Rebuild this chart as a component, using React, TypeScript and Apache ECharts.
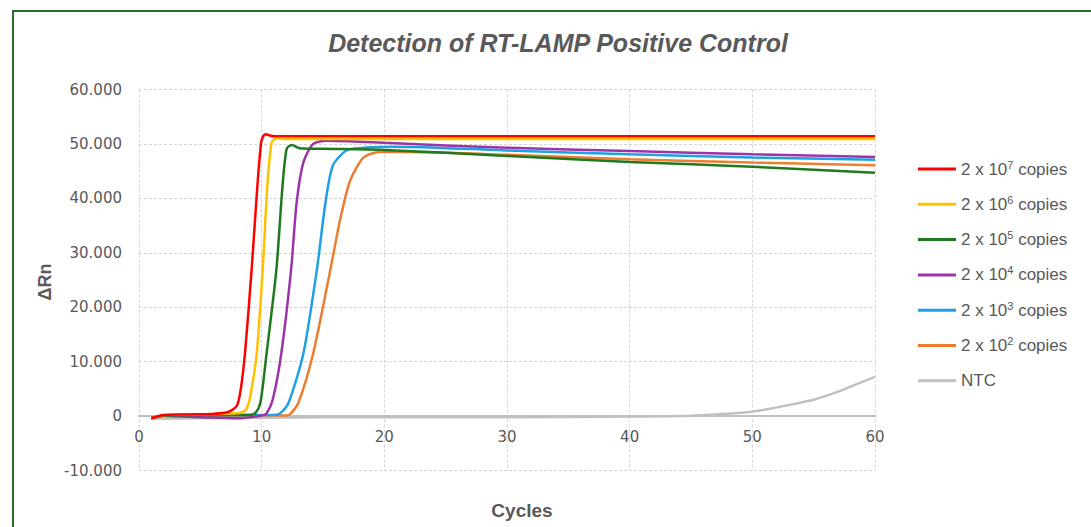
import React, { useEffect, useRef } from "react";
import * as echarts from "echarts";

const xTicks = [0, 10, 20, 30, 40, 50, 60];
const yTicks = [-10, 0, 10, 20, 30, 40, 50, 60];

const seriesNames = [
  "2 x 10{sup|7} copies",
  "2 x 10{sup|6} copies",
  "2 x 10{sup|5} copies",
  "2 x 10{sup|4} copies",
  "2 x 10{sup|3} copies",
  "2 x 10{sup|2} copies",
  "NTC",
];
const seriesKeys = ["2x10^7", "2x10^6", "2x10^5", "2x10^4", "2x10^3", "2x10^2", "NTC"];
const seriesColors = ["#ff0000", "#ffc000", "#1f7a1f", "#9b34a8", "#1da1e2", "#ed7d31", "#c0c0c0"];

// [cycle, ΔRn]
const copies7 = [
  [1, -0.4], [2, 0.2], [4, 0.3], [6, 0.4], [7, 0.6], [7.5, 1.0], [8, 2.0], [8.3, 5.0],
  [8.64, 11.5], [9.18, 26.9], [9.65, 42.3], [9.95, 50.2], [10.1, 51.3], [10.3, 51.8],
  [10.6, 51.6], [11, 51.4], [20, 51.4], [30, 51.4], [40, 51.4], [50, 51.4], [60, 51.4],
];
const copies6 = [
  [1, -0.4], [2, 0.2], [5, 0.3], [8, 0.5], [8.5, 0.8], [8.8, 1.5], [9.1, 4.0], [9.6, 11.5],
  [10.08, 26.9], [10.46, 42.3], [10.8, 50.2], [11, 50.8], [11.2, 51.0], [12, 50.9],
  [20, 50.9], [30, 50.9], [40, 50.9], [50, 50.9], [60, 50.9],
];
const copies5 = [
  [1, -0.4], [2, 0.1], [5, 0.2], [9, 0.2], [9.5, 0.6], [9.9, 2.5], [10.4, 11.5], [11.2, 26.9],
  [11.7, 42.3], [12.04, 49.1], [12.45, 49.8], [13.1, 49.2], [15, 49.1], [20, 48.9],
  [30, 47.8], [40, 46.7], [50, 45.8], [60, 44.7],
];
const copies4 = [
  [1, -0.4], [2, 0.0], [5, -0.2], [8, -0.4], [10, 0.1], [10.4, 0.5], [10.9, 3.0], [11.6, 11.5],
  [12.4, 26.9], [12.85, 39.2], [13.4, 46.6], [14.2, 50.0], [15.3, 50.6], [17, 50.5],
  [20, 50.2], [30, 49.3], [40, 48.7], [50, 48.1], [60, 47.6],
];
const copies3 = [
  [1, -0.4], [2, 0.1], [6, 0.2], [11, 0.2], [11.5, 0.5], [12.2, 2.5], [13.4, 11.5], [14.5, 26.9],
  [15.2, 39.2], [15.8, 46.0], [16.9, 48.8], [18.3, 49.3], [21, 49.5], [30, 48.8],
  [40, 48.1], [50, 47.5], [60, 47.1],
];
const copies2 = [
  [1, -0.4], [2, 0.1], [6, 0.2], [12, 0.1], [12.3, 0.3], [13, 2.5], [14.2, 11.5], [15.6, 26.9],
  [16.4, 36.1], [17.2, 43.2], [18.3, 47.5], [19.6, 48.5], [22, 48.5], [30, 48.0],
  [40, 47.2], [50, 46.6], [60, 46.1],
];
const ntc = [
  [1, -0.5], [5, -0.4], [10, -0.3], [20, -0.2], [30, -0.2], [40, -0.1], [44, 0.0], [47, 0.3],
  [50, 0.8], [52, 1.6], [54, 2.5], [55, 3.0], [56, 3.7], [57, 4.5], [58, 5.4], [60, 7.2],
];
const seriesData = [copies7, copies6, copies5, copies4, copies3, copies2, ntc];

const FONT = "'Liberation Sans', Arial, sans-serif";
const TICKFONT = "'DejaVu Sans', sans-serif";
const TEXT = "#595959";

export default function App() {
  const ref = useRef<HTMLDivElement>(null);
  useEffect(() => {
    if (!ref.current) return;
    const chart = echarts.init(ref.current, undefined, { renderer: "svg" });
    chart.setOption({
      animation: false,
      backgroundColor: "#ffffff",
      grid: { left: 139, right: 216, top: 89.5, bottom: 56.5, containLabel: false },
      graphic: [
        {
          type: "rect",
          z: -10,
          shape: { x: 13, y: 11, width: 1100, height: 540 },
          style: { fill: "#ffffff", stroke: "#2a6a2a", lineWidth: 2 },
        },
        {
          type: "text",
          x: 558,
          y: 43,
          style: {
            text: "Detection of RT-LAMP Positive Control",
            textAlign: "center",
            textVerticalAlign: "middle",
            fontFamily: FONT,
            fontSize: 25,
            fontWeight: "bold",
            fontStyle: "italic",
            fill: TEXT,
          },
        },
        {
          type: "text",
          x: 45,
          y: 282,
          rotation: Math.PI / 2,
          style: {
            text: "ΔRn",
            textAlign: "center",
            textVerticalAlign: "middle",
            fontFamily: FONT,
            fontSize: 18,
            fontWeight: "bold",
            fill: TEXT,
          },
        },
        {
          type: "text",
          x: 522,
          y: 510,
          style: {
            text: "Cycles",
            textAlign: "center",
            textVerticalAlign: "middle",
            fontFamily: FONT,
            fontSize: 19,
            fontWeight: "bold",
            fill: TEXT,
          },
        },
      ],
      legend: {
        orient: "vertical",
        left: 913,
        top: 154,
        itemWidth: 38,
        itemHeight: 3,
        itemGap: 15.3,
        icon: "rect",
        data: seriesKeys,
        formatter: (name: string) => seriesNames[seriesKeys.indexOf(name)],
        textStyle: {
          fontFamily: FONT,
          fontSize: 17,
          lineHeight: 20,
          color: TEXT,
          rich: {
            sup: { fontFamily: FONT, fontSize: 11, lineHeight: 12, verticalAlign: "top", color: TEXT },
          },
        },
      },
      xAxis: {
        type: "value",
        min: xTicks[0],
        max: xTicks[xTicks.length - 1],
        interval: 10,
        position: "bottom",
        offset: -54.5,
        axisLine: { show: true, onZero: false, lineStyle: { color: "#bfbfbf", width: 2 } },
        axisTick: { show: false },
        axisLabel: { fontFamily: TICKFONT, fontSize: 15, color: TEXT, margin: 13 },
        splitLine: { show: true, lineStyle: { color: "#d4d4d4", type: [3, 2], width: 1 } },
      },
      yAxis: {
        type: "value",
        min: yTicks[0],
        max: yTicks[yTicks.length - 1],
        interval: 10,
        axisLine: { show: false },
        axisTick: { show: false },
        axisLabel: {
          fontFamily: TICKFONT,
          fontSize: 15,
          color: TEXT,
          margin: 17,
          formatter: (v: number) => (v === 0 ? "0" : v.toFixed(3)),
        },
        splitLine: { show: true, lineStyle: { color: "#d4d4d4", type: [3, 2], width: 1 } },
      },
      series: seriesKeys.map((k, i) => ({
        name: k,
        type: "line",
        data: seriesData[i],
        showSymbol: false,
        smooth: 0.25,
        color: seriesColors[i],
        lineStyle: { color: seriesColors[i], width: 2.5 },
        z: i === 6 ? 1 : 2 + (6 - i),
      })),
    });
    return () => chart.dispose();
  }, []);
  return (
    <div
      ref={ref}
      style={{ position: "fixed", left: 0, top: 0, width: 1091, height: 527 }}
    />
  );
}
